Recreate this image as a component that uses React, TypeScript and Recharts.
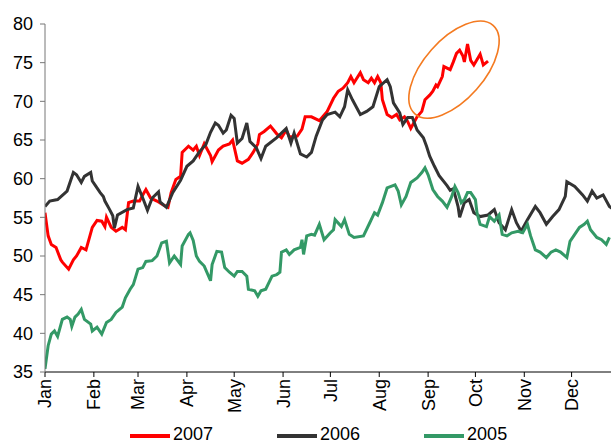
import React from 'react';
import { LineChart, Line, XAxis, YAxis, Legend, ReferenceDot } from 'recharts';

// month labels and the day-of-year each month starts on
const months = ['Jan', 'Feb', 'Mar', 'Apr', 'May', 'Jun', 'Jul', 'Aug', 'Sep', 'Oct', 'Nov', 'Dec'];
const monthStartDays = [0, 31, 59, 90, 120, 151, 181, 212, 243, 273, 304, 334];
const yTicks = [35, 40, 45, 50, 55, 60, 65, 70, 75, 80];

// legend order, newest year first
const legendOrder = ['2007', '2006', '2005'];

// [day of year, price]
const series2007: [number, number][] = [
  [0, 55.6], [2, 52.6], [4, 51.5], [7, 51.1], [10, 49.5], [11, 49.2], [15, 48.3], [18, 49.5], [20, 50.0], [23, 51.1],
  [26, 50.8], [30, 53.7], [33, 54.6], [36, 54.5], [38, 53.8], [39, 55.0], [42, 53.7], [45, 53.2], [49, 53.7], [51, 53.4],
  [53, 56.9], [56, 57.1], [60, 57.1], [62, 57.9], [64, 58.6], [67, 57.5], [71, 57.1], [75, 56.6], [78, 56.3], [80, 58.2],
  [83, 59.9], [86, 60.3], [87, 63.4], [91, 64.2], [94, 63.7], [96, 64.2], [98, 63.0], [101, 64.5], [105, 63.0], [106, 62.2],
  [110, 63.7], [113, 64.2], [117, 64.5], [119, 65.0], [122, 62.3], [125, 62.0], [129, 62.5], [132, 63.4], [135, 64.5], [136, 65.7],
  [139, 66.1], [143, 66.8], [147, 65.8], [150, 65.3], [153, 66.3], [155, 65.4], [160, 65.5], [163, 66.4], [165, 68.0], [169, 68.0],
  [174, 67.5], [179, 68.7], [183, 70.4], [186, 71.3], [189, 71.7], [192, 72.4], [194, 73.2], [196, 72.4], [200, 73.7], [202, 72.8],
  [205, 72.4], [207, 73.0], [209, 72.4], [211, 73.2], [213, 72.4], [214, 70.2], [217, 68.3], [220, 67.9], [223, 68.3], [225, 67.6],
  [228, 68.0], [230, 67.4], [232, 66.5], [236, 68.0], [239, 68.7], [241, 70.2], [244, 70.8], [246, 71.3], [248, 72.1], [249, 71.9],
  [252, 73.2], [253, 74.5], [257, 74.1], [259, 75.1], [261, 76.2], [263, 76.6], [265, 75.9], [266, 75.1], [268, 77.4], [270, 75.3],
  [272, 74.7], [276, 76.1], [278, 74.7], [281, 75.2],
];

const series2006: [number, number][] = [
  [0, 56.4], [3, 57.1], [8, 57.3], [14, 58.4], [18, 60.8], [20, 60.5], [23, 59.5], [25, 60.3], [29, 60.8], [30, 59.7],
  [32, 59.1], [35, 58.2], [37, 57.7], [38, 57.1], [41, 56.0], [43, 55.2], [44, 53.6], [46, 55.3], [52, 56.0], [56, 56.2],
  [59, 59.0], [62, 57.5], [65, 55.9], [68, 57.5], [72, 58.3], [73, 57.0], [77, 56.3], [81, 58.2], [86, 59.8], [90, 61.6],
  [94, 62.3], [98, 63.5], [102, 64.4], [105, 66.0], [108, 67.2], [110, 66.9], [113, 65.9], [115, 66.3], [118, 68.2], [120, 67.8],
  [122, 64.6], [125, 65.2], [128, 67.2], [130, 64.8], [134, 64.0], [137, 62.6], [140, 64.2], [147, 65.3], [153, 66.5], [156, 64.6],
  [158, 65.9], [162, 63.2], [166, 62.8], [169, 63.4], [172, 65.5], [176, 67.6], [179, 68.3], [184, 68.6], [187, 68.0], [190, 69.3],
  [192, 71.5], [195, 70.2], [200, 68.3], [204, 68.7], [208, 69.3], [212, 71.9], [217, 72.8], [219, 71.9], [221, 69.8], [225, 68.5],
  [227, 67.0], [230, 67.9], [233, 67.9], [236, 66.3], [240, 65.3], [242, 64.2], [244, 62.9], [247, 61.6], [250, 60.4], [255, 59.1],
  [257, 58.5], [259, 58.7], [262, 56.4], [263, 55.0], [266, 56.9], [269, 57.3], [272, 55.6], [276, 55.1], [281, 55.3], [285, 56.0],
  [288, 54.3], [292, 53.4], [296, 56.0], [299, 54.3], [302, 53.2], [306, 54.7], [311, 56.4], [314, 55.6], [318, 54.1], [322, 55.1],
  [326, 56.0], [330, 57.7], [331, 59.6], [336, 59.0], [341, 57.9], [344, 57.1], [347, 58.4], [350, 57.5], [354, 57.9], [358, 56.4],
  [362, 55.8],
];

const series2005: [number, number][] = [
  [0, 35.4], [2, 38.4], [4, 39.9], [6, 40.3], [8, 39.6], [11, 41.8], [14, 42.1], [16, 41.8], [17, 40.9], [19, 42.1],
  [21, 42.5], [23, 43.1], [25, 41.8], [29, 41.2], [30, 40.3], [33, 40.8], [36, 39.9], [39, 41.4], [42, 41.8], [45, 42.7],
  [49, 43.4], [51, 44.6], [54, 45.7], [56, 46.3], [59, 48.3], [62, 48.5], [64, 49.3], [68, 49.4], [71, 50.0], [74, 51.7],
  [77, 51.9], [79, 49.1], [82, 50.0], [86, 48.9], [87, 51.3], [91, 52.8], [92, 53.0], [94, 52.0], [96, 50.0], [98, 49.3],
  [101, 48.7], [105, 46.8], [106, 48.9], [109, 50.6], [112, 50.5], [114, 48.5], [117, 47.9], [120, 47.4], [122, 48.0], [125, 48.0],
  [128, 47.4], [129, 45.7], [133, 45.5], [135, 44.8], [137, 45.5], [140, 45.7], [144, 47.4], [147, 47.6], [149, 47.9], [150, 50.5],
  [153, 50.8], [155, 50.2], [158, 50.8], [162, 51.1], [163, 52.1], [164, 50.2], [166, 52.6], [169, 52.8], [171, 52.7], [174, 54.1],
  [177, 52.1], [181, 53.0], [183, 53.4], [184, 54.7], [188, 53.8], [190, 54.7], [193, 52.8], [196, 52.4], [202, 52.6], [206, 54.3],
  [209, 55.6], [211, 55.3], [214, 56.9], [217, 58.8], [222, 59.2], [224, 58.4], [226, 56.6], [229, 57.7], [232, 59.5], [236, 60.1],
  [239, 60.8], [241, 61.4], [243, 60.5], [246, 58.6], [249, 57.7], [252, 57.1], [255, 56.3], [258, 57.7], [260, 59.0], [262, 58.2],
  [264, 56.9], [266, 57.3], [268, 58.2], [270, 58.2], [273, 57.3], [274, 55.6], [276, 54.1], [280, 53.8], [282, 55.1], [285, 54.5],
  [288, 55.3], [290, 52.8], [293, 52.6], [296, 53.0], [300, 53.2], [303, 53.0], [306, 54.1], [308, 52.6], [311, 50.8], [314, 50.5],
  [318, 49.8], [321, 50.5], [324, 50.8], [327, 50.5], [331, 49.8], [333, 51.9], [336, 52.8], [339, 53.7], [342, 54.1], [344, 54.5],
  [346, 53.4], [350, 52.4], [353, 52.1], [356, 51.5], [358, 52.4],
];

// the late-2007 run-up that gets circled
const highlightDay = 259.4;
const highlightValue = 74.1;

const FONT = '"Liberation Sans", Arial, sans-serif';

const toRows = (pairs: [number, number][]) => pairs.map(([day, value]) => ({ day, value }));

const MonthTick = (props: any) => {
  const { x, y, payload } = props;
  const idx = monthStartDays.indexOf(payload.value);
  return (
    <text
      x={x}
      y={y}
      transform={`rotate(-90, ${x}, ${y})`}
      textAnchor="end"
      dy="0.36em"
      fontSize={18}
      fontFamily={FONT}
      fill="#000"
    >
      {months[idx]}
    </text>
  );
};

const LegendRow = (props: any) => {
  const entries = [...(props.payload || [])].sort(
    (a: any, b: any) => legendOrder.indexOf(a.value) - legendOrder.indexOf(b.value)
  );
  return (
    <div style={{ display: 'flex', paddingLeft: 130, height: 18, fontFamily: FONT, fontSize: 18, lineHeight: '18px' }}>
      {entries.map((entry: any) => (
        <div key={entry.value} style={{ display: 'flex', alignItems: 'center', marginRight: 64 }}>
          <div style={{ width: 40, height: 4, background: entry.color, marginRight: 3, marginTop: 4 }} />
          <span style={{ color: '#000' }}>{entry.value}</span>
        </div>
      ))}
    </div>
  );
};

const HighlightRing = (props: any) => {
  const { cx, cy } = props;
  return (
    <ellipse
      cx={cx}
      cy={cy}
      rx={59}
      ry={30}
      transform={`rotate(-48.5, ${cx}, ${cy})`}
      fill="none"
      stroke="#F47A20"
      strokeWidth={1.6}
    />
  );
};

const App: React.FC = () => {
  return (
    <div style={{ position: 'absolute', left: 0, top: 0, width: 611, height: 443, background: '#fff' }}>
      <LineChart width={611} height={443} margin={{ top: 24, right: 0, left: 0, bottom: 0 }}>
        <XAxis
          type="number"
          dataKey="day"
          domain={[0, 359]}
          allowDataOverflow
          ticks={monthStartDays}
          tick={<MonthTick />}
          tickSize={5}
          tickMargin={2}
          height={53}
          axisLine={{ stroke: '#000', strokeWidth: 1 }}
          tickLine={{ stroke: '#000' }}
        />
        <YAxis
          type="number"
          domain={[35, 80]}
          ticks={yTicks}
          width={45}
          tickSize={5}
          tickMargin={7}
          axisLine={{ stroke: '#777', strokeWidth: 1 }}
          tickLine={{ stroke: '#777' }}
          tick={{ fontSize: 18, fontFamily: FONT, fill: '#000' }}
        />
        <Legend verticalAlign="bottom" align="left" content={<LegendRow />} />
        <Line
          data={toRows(series2007)}
          dataKey="value"
          name="2007"
          type="linear"
          stroke="#FF0000"
          strokeWidth={3}
          dot={false}
          isAnimationActive={false}
        />
        <Line
          data={toRows(series2006)}
          dataKey="value"
          name="2006"
          type="linear"
          stroke="#333333"
          strokeWidth={3}
          dot={false}
          isAnimationActive={false}
        />
        <Line
          data={toRows(series2005)}
          dataKey="value"
          name="2005"
          type="linear"
          stroke="#339966"
          strokeWidth={3}
          dot={false}
          isAnimationActive={false}
        />
        <ReferenceDot
          x={highlightDay}
          y={highlightValue}
          r={1}
          ifOverflow="visible"
          shape={<HighlightRing />}
        />
      </LineChart>
    </div>
  );
};

export default App;
